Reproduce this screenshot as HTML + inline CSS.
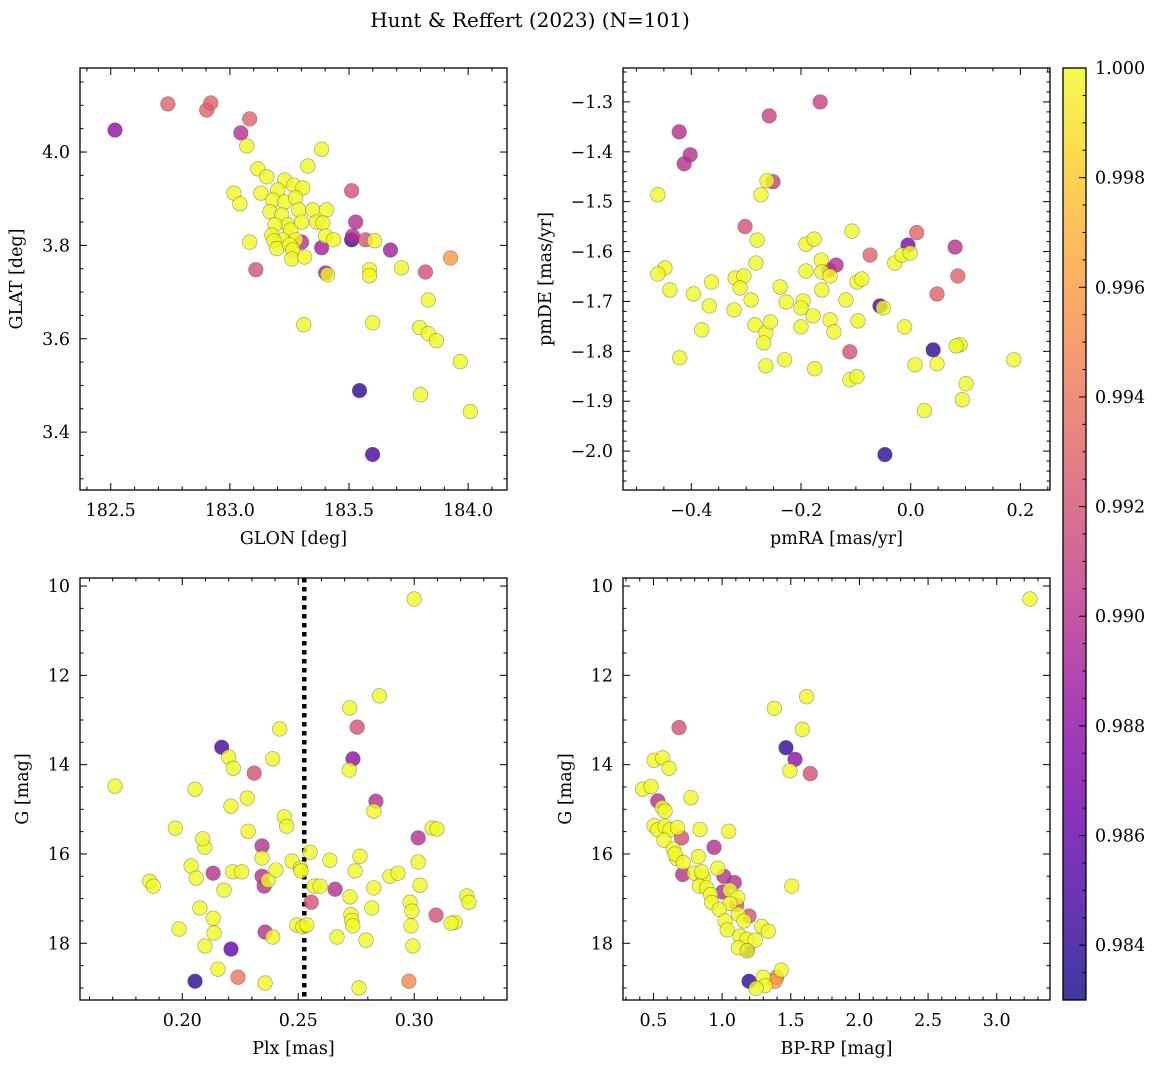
<!DOCTYPE html>
<html><head><meta charset="utf-8"><style>
body{margin:0;background:#fff}
svg text{font-family:"DejaVu Serif","Liberation Serif",serif;fill:#000}
</style></head><body>
<svg id="fig" width="1161" height="1067" xmlns="http://www.w3.org/2000/svg">
<text x="530" y="27" font-size="20" text-anchor="middle">Hunt &amp; Reffert (2023) (N=101)</text>
</svg>
<script>
// ---- Panel 1: GLON / GLAT ----
const p1Lon=[182.518,182.740,182.903,182.920,183.083,183.046,183.071,183.385,183.117,183.155,183.017,183.130,183.042,183.327,183.230,183.201,183.268,183.306,183.180,183.230,183.276,183.168,183.218,183.289,183.243,183.189,183.255,183.301,183.222,183.276,183.176,183.348,183.406,183.364,183.390,183.083,183.185,183.197,183.251,183.264,183.260,183.314,183.301,183.385,183.310,183.109,183.511,183.528,183.515,183.511,183.569,183.607,183.402,183.410,183.586,183.586,183.402,183.674,183.720,183.821,183.926,183.599,183.833,183.796,183.833,183.867,183.800,183.967,184.009,183.544,183.599,183.435];
const p1Lat=[4.047,4.103,4.090,4.105,4.071,4.041,4.013,4.006,3.964,3.947,3.912,3.912,3.889,3.970,3.940,3.919,3.929,3.923,3.897,3.893,3.902,3.872,3.865,3.876,3.844,3.844,3.833,3.850,3.812,3.812,3.822,3.876,3.876,3.850,3.848,3.807,3.810,3.793,3.801,3.790,3.771,3.775,3.807,3.795,3.630,3.748,3.917,3.850,3.820,3.812,3.812,3.810,3.741,3.737,3.748,3.735,3.820,3.790,3.752,3.743,3.773,3.634,3.683,3.624,3.611,3.596,3.480,3.551,3.444,3.489,3.352,3.812];
const p1Prob=[0.988,0.993,0.993,0.993,0.993,0.990,1,1,1,1,1,1,1,1,1,1,1,1,1,1,1,1,1,1,1,1,1,1,1,1,1,1,1,1,1,1,1,1,1,1,1,1,0.990,0.989,1,0.992,0.992,0.990,0.990,0.984,0.992,1,0.989,1,1,1,1,0.989,1,0.992,0.996,1,1,1,1,1,1,1,1,0.984,0.985,1];
// ---- Panel 2: pmRA / pmDE ----
const p2RA=[-0.422,-0.413,-0.402,-0.165,-0.258,-0.251,-0.262,-0.461,-0.273,-0.448,-0.461,-0.439,-0.396,-0.421,-0.363,-0.367,-0.381,-0.302,-0.280,-0.282,-0.320,-0.304,-0.311,-0.322,-0.291,-0.284,-0.264,-0.268,-0.264,-0.256,-0.238,-0.227,-0.230,-0.191,-0.176,-0.191,-0.196,-0.200,-0.200,-0.175,-0.178,-0.163,-0.162,-0.149,-0.147,-0.136,-0.162,-0.147,-0.140,-0.107,-0.118,-0.111,-0.098,-0.111,-0.096,-0.098,-0.089,-0.074,-0.056,-0.050,-0.047,-0.029,-0.016,-0.005,-0.001,-0.011,0.011,0.008,0.025,0.041,0.048,0.048,0.081,0.086,0.090,0.083,0.094,0.101,0.188];
const p2DE=[-1.360,-1.424,-1.406,-1.300,-1.328,-1.460,-1.458,-1.486,-1.486,-1.633,-1.645,-1.677,-1.685,-1.813,-1.661,-1.709,-1.757,-1.550,-1.577,-1.623,-1.653,-1.649,-1.673,-1.717,-1.697,-1.747,-1.763,-1.783,-1.829,-1.741,-1.671,-1.701,-1.817,-1.585,-1.575,-1.639,-1.699,-1.713,-1.751,-1.835,-1.729,-1.617,-1.641,-1.637,-1.649,-1.627,-1.677,-1.737,-1.761,-1.559,-1.697,-1.857,-1.851,-1.801,-1.739,-1.661,-1.655,-1.607,-1.709,-1.713,-2.007,-1.623,-1.607,-1.587,-1.603,-1.751,-1.562,-1.827,-1.919,-1.797,-1.685,-1.825,-1.591,-1.649,-1.787,-1.789,-1.897,-1.865,-1.817];
const p2Prob=[0.990,0.990,0.990,0.991,0.991,0.991,1,1,1,1,1,1,1,1,1,1,1,0.992,1,1,1,1,1,1,1,1,1,1,1,1,1,1,1,1,1,1,1,1,1,1,1,1,1,0.990,1,0.990,1,1,1,1,1,1,1,0.992,1,1,1,0.993,0.985,1,0.984,1,1,0.987,1,1,0.993,1,1,0.984,0.993,1,0.990,0.993,1,1,1,1,1];
// ---- Panel 3: Plx / G ----
const p3Plx=[0.171,0.300,0.285,0.2722,0.2754,0.242,0.2736,0.272,0.217,0.220,0.222,0.231,0.239,0.2055,0.228,0.221,0.2835,0.2826,0.197,0.244,0.2284,0.2344,0.2344,0.245,0.2551,0.2473,0.251,0.2766,0.2636,0.3017,0.3077,0.3098,0.2038,0.206,0.2076,0.2133,0.218,0.186,0.1875,0.2217,0.2256,0.2344,0.2370,0.2353,0.2404,0.2512,0.2568,0.2594,0.2659,0.2745,0.2723,0.2826,0.2817,0.2895,0.293,0.3025,0.2982,0.2990,0.2986,0.3017,0.3094,0.3176,0.3159,0.3227,0.3236,0.2556,0.2667,0.2727,0.2731,0.2735,0.2792,0.2494,0.2520,0.2537,0.2357,0.239,0.1986,0.2098,0.2133,0.2137,0.221,0.224,0.2154,0.2055,0.2357,0.2762,0.2977,0.2994,0.2097,0.2088];
const p3G=[14.48,10.29,12.46,12.73,13.16,13.20,13.87,14.12,13.61,13.83,14.08,14.19,13.87,14.55,14.75,14.93,14.82,15.04,15.42,15.17,15.49,15.82,16.09,15.38,15.96,16.16,16.32,16.05,16.14,15.64,15.42,15.44,16.27,16.54,17.21,16.43,16.81,16.61,16.72,16.40,16.40,16.50,16.59,16.72,16.36,16.38,16.72,16.72,16.79,16.38,16.96,16.76,17.21,16.50,16.43,16.70,17.08,17.28,17.61,16.18,17.37,17.53,17.55,16.94,17.08,17.08,17.86,17.36,17.49,17.61,17.93,17.59,17.63,17.59,17.75,17.86,17.68,18.06,17.44,17.77,18.13,18.76,18.58,18.85,18.89,19.00,18.85,18.06,15.85,15.66];
const p3Prob=[1,1,1,1,0.992,1,0.988,1,0.985,1,1,0.992,1,1,1,1,0.990,1,1,1,1,0.990,1,1,1,1,1,1,1,0.990,1,1,1,1,1,0.990,1,1,1,1,1,0.990,1,0.990,1,1,1,1,0.990,1,1,1,1,1,1,1,1,1,1,1,0.992,1,1,1,1,0.992,1,1,1,1,1,1,1,1,0.990,1,1,1,1,1,0.986,0.994,1,0.984,1,1,0.995,1,1,1];
// ---- Panel 4: BP-RP / G ----
const p4BR=[1.616,1.380,1.584,0.686,1.465,1.531,1.494,1.642,0.504,0.567,0.613,0.421,0.482,0.773,0.531,0.564,0.584,0.504,0.531,0.584,0.620,0.676,0.705,0.576,0.839,1.048,0.941,0.644,0.669,0.657,0.717,0.713,0.826,0.797,0.863,0.851,0.968,1.013,1.089,1.004,1.057,0.834,0.887,0.917,0.924,1.113,1.057,1.106,0.979,1.021,1.118,1.196,1.159,1.037,1.130,1.179,1.241,1.288,1.336,1.118,1.183,1.183,1.431,1.397,1.385,1.300,1.312,1.247,1.196,1.507,3.242];
const p4G=[12.48,12.74,13.21,13.17,13.62,13.88,14.14,14.20,13.90,13.85,14.08,14.55,14.49,14.74,14.81,14.96,15.04,15.37,15.46,15.38,15.46,15.41,15.64,15.69,15.45,15.49,15.85,15.89,16.10,16.00,16.19,16.46,16.06,16.43,16.53,16.40,16.32,16.50,16.64,16.85,16.81,16.72,16.76,16.91,17.09,16.98,17.11,17.14,17.24,17.50,17.35,17.39,17.50,17.70,17.84,17.91,17.93,17.62,17.73,18.10,18.15,18.17,18.60,18.76,18.85,18.76,18.95,19.01,18.85,16.72,10.29];
const p4Prob=[1,1,1,0.992,0.984,0.988,1,0.992,1,1,1,1,1,1,0.990,1,1,1,1,1,1,1,0.992,1,1,1,0.990,1,1,1,1,0.990,1,1,1,1,1,0.990,0.990,0.990,1,1,1,1,1,1,1,0.992,1,1,1,0.992,1,1,1,1,1,1,1,1,0.984,1,1,0.995,0.996,1,1,1,0.984,1,1];
// ---- tick labels ----
const p1XTicks=[182.5,183.0,183.5,184.0];
const p1YTicks=[3.4,3.6,3.8,4.0];
const p2XTicks=[-0.4,-0.2,0.0,0.2];
const p2YTicks=[-2.0,-1.9,-1.8,-1.7,-1.6,-1.5,-1.4,-1.3];
const p3XTicks=[0.20,0.25,0.30];
const p3YTicks=[10,12,14,16,18];
const p4XTicks=[0.5,1.0,1.5,2.0,2.5,3.0];
const cbTicks=[0.984,0.986,0.988,0.990,0.992,0.994,0.996,0.998,1.000];
const plxLine=[0.2526];
const PMIN=0.983,PMAX=1.0;

const NS="http://www.w3.org/2000/svg";
const svg=document.getElementById('fig');
function mk(tag,attrs,parent){const e=document.createElementNS(NS,tag);for(const k in attrs)e.setAttribute(k,attrs[k]);(parent||svg).appendChild(e);return e;}
const stops=[[0,'#0d0887'],[0.1,'#41049d'],[0.2,'#6a00a8'],[0.3,'#8f0da4'],[0.4,'#b12a90'],[0.5,'#cc4778'],[0.6,'#e16462'],[0.7,'#f2844b'],[0.8,'#fca636'],[0.9,'#fcce25'],[1,'#f0f921']];
function hex(h){return[parseInt(h.slice(1,3),16),parseInt(h.slice(3,5),16),parseInt(h.slice(5,7),16)];}
function plasma(t){t=Math.max(0,Math.min(1,t));for(let i=1;i<stops.length;i++){if(t<=stops[i][0]){const a=hex(stops[i-1][1]),b=hex(stops[i][1]);const f=(t-stops[i-1][0])/(stops[i][0]-stops[i-1][0]);return 'rgb('+a.map((v,j)=>Math.round(v+(b[j]-v)*f)).join(',')+')';}}return stops[10][1];}
function fmt(v,d){return (v<0?'−':'')+Math.abs(v).toFixed(d);}
function minorStep(step){const m=step/Math.pow(10,Math.floor(Math.log10(step)+1e-9));return (Math.abs(m-1)<1e-6||Math.abs(m-5)<1e-6)?step/5:step/4;}
const TFS=17.5;
function panel(cfg){
  const {name,x0,x1,y0,y1,xmin,xmax,ymin,ymax,yinv,xt,yt,xd,yd,xlab,ylab,ylabx,xs,ys,ps}=cfg;
  const g=mk('g',{});
  
  
  const sx=v=>x0+(v-xmin)/(xmax-xmin)*(x1-x0);
  const sy=v=>yinv? y0+(v-ymin)/(ymax-ymin)*(y1-y0) : y1-(v-ymin)/(ymax-ymin)*(y1-y0);
  const clip=mk('clipPath',{id:'c-'+name},g);mk('rect',{x:x0,y:y0,width:x1-x0,height:y1-y0},clip);
  const pts=mk('g',{'clip-path':'url(#c-'+name+')'},g);
  if(cfg.vline){cfg.vline.forEach(v=>{const l=mk('line',{x1:sx(v),x2:sx(v),y1:y0,y2:y1,stroke:'#000','stroke-width':4.5,'stroke-dasharray':'4.5,4.5'},pts);});}
  const idx=xs.map((_,i)=>i).sort((a,b)=>ps[a]-ps[b]);
  idx.forEach(i=>{const c=mk('circle',{cx:sx(xs[i]),cy:sy(ys[i]),r:7.3,fill:plasma((ps[i]-PMIN)/(PMAX-PMIN)),'fill-opacity':0.8,stroke:'#555','stroke-opacity':0.6,'stroke-width':0.6},pts);
    
    });
  mk('rect',{x:x0,y:y0,width:x1-x0,height:y1-y0,fill:'none',stroke:'#000','stroke-width':1.3},g);
  const xs0=xt[1]-xt[0], xm=minorStep(xs0);
  for(let v=Math.ceil(xmin/xm)*xm;v<=xmax;v+=xm){const X=sx(v);const major=xt.some(t=>Math.abs(t-v)<xm*0.1);const L=major?7:3.5;
    mk('line',{x1:X,x2:X,y1:y1,y2:y1-L,stroke:'#000','stroke-width':1},g);mk('line',{x1:X,x2:X,y1:y0,y2:y0+L,stroke:'#000','stroke-width':1},g);}
  const ys0=yt[1]-yt[0], ym=minorStep(ys0);
  for(let v=Math.ceil(ymin/ym)*ym;v<=ymax;v+=ym){const Y=sy(v);const major=yt.some(t=>Math.abs(t-v)<ym*0.1);const L=major?7:3.5;
    mk('line',{x1:x0,x2:x0+L,y1:Y,y2:Y,stroke:'#000','stroke-width':1},g);mk('line',{x1:x1,x2:x1-L,y1:Y,y2:Y,stroke:'#000','stroke-width':1},g);}
  xt.forEach(v=>{const t=mk('text',{x:sx(v),y:y1+26,'font-size':TFS,'text-anchor':'middle'},g);t.textContent=fmt(v,xd);
    
    });
  yt.forEach(v=>{const t=mk('text',{x:x0-10,y:sy(v)+6,'font-size':TFS,'text-anchor':'end'},g);t.textContent=fmt(v,yd);
    
    });
  const xl=mk('text',{x:(x0+x1)/2,y:y1+54,'font-size':17.5,'text-anchor':'middle'},g);xl.textContent=xlab;
  
  
  const yl=mk('text',{x:ylabx,y:(y0+y1)/2,'font-size':17.5,'text-anchor':'middle',transform:'rotate(-90 '+ylabx+' '+(y0+y1)/2+')'},g);yl.textContent=ylab;
  
  
}
panel({name:'glon-glat-panel',x0:80,x1:507,y0:68,y1:490,xmin:182.371,xmax:184.163,ymin:3.276,ymax:4.180,yinv:false,xt:p1XTicks,yt:p1YTicks,xd:1,yd:1,xlab:'GLON [deg]',ylab:'GLAT [deg]',ylabx:22,xs:p1Lon,ys:p1Lat,ps:p1Prob});
panel({name:'proper-motion-panel',x0:623,x1:1050,y0:68,y1:490,xmin:-0.5245,xmax:0.254,ymin:-2.078,ymax:-1.232,yinv:false,xt:p2XTicks,yt:p2YTicks,xd:1,yd:1,xlab:'pmRA [mas/yr]',ylab:'pmDE [mas/yr]',ylabx:551,xs:p2RA,ys:p2DE,ps:p2Prob});
panel({name:'parallax-mag-panel',x0:80,x1:507,y0:578,y1:1000,xmin:0.1559,xmax:0.340,ymin:9.82,ymax:19.27,yinv:true,xt:p3XTicks,yt:p3YTicks,xd:2,yd:0,xlab:'Plx [mas]',ylab:'G [mag]',ylabx:28,xs:p3Plx,ys:p3G,ps:p3Prob,vline:plxLine});
panel({name:'cmd-panel',x0:623,x1:1050,y0:578,y1:1000,xmin:0.278,xmax:3.388,ymin:9.82,ymax:19.27,yinv:true,xt:p4XTicks,yt:p3YTicks,xd:1,yd:0,xlab:'BP-RP [mag]',ylab:'G [mag]',ylabx:571,xs:p4BR,ys:p4G,ps:p4Prob});

// colorbar
const cb=mk('g',{});


const defs=mk('defs',{},cb);const lg=mk('linearGradient',{id:'cbg',x1:0,y1:1,x2:0,y2:0},defs);
stops.forEach(s=>mk('stop',{offset:s[0],'stop-color':s[1]},lg));
const cx0=1063,cx1=1086,cy0=68,cy1=1000;
mk('rect',{x:cx0,y:cy0,width:cx1-cx0,height:cy1-cy0,fill:'url(#cbg)','fill-opacity':0.8},cb);
mk('rect',{x:cx0,y:cy0,width:cx1-cx0,height:cy1-cy0,fill:'none',stroke:'#000','stroke-width':1.3},cb);
const cy=v=>cy1-(v-PMIN)/(PMAX-PMIN)*(cy1-cy0);
for(let v=0.9835;v<=1.00001;v+=0.0005){const Y=cy(v);const major=cbTicks.some(t=>Math.abs(t-v)<1e-5);mk('line',{x1:cx1,x2:cx1-(major?7:3.5),y1:Y,y2:Y,stroke:'#000','stroke-width':1},cb);}
cbTicks.forEach(v=>{const t=mk('text',{x:cx1+9,y:cy(v)+6,'font-size':TFS},cb);t.textContent=v.toFixed(3);
  
  });
</script>
</body></html>
